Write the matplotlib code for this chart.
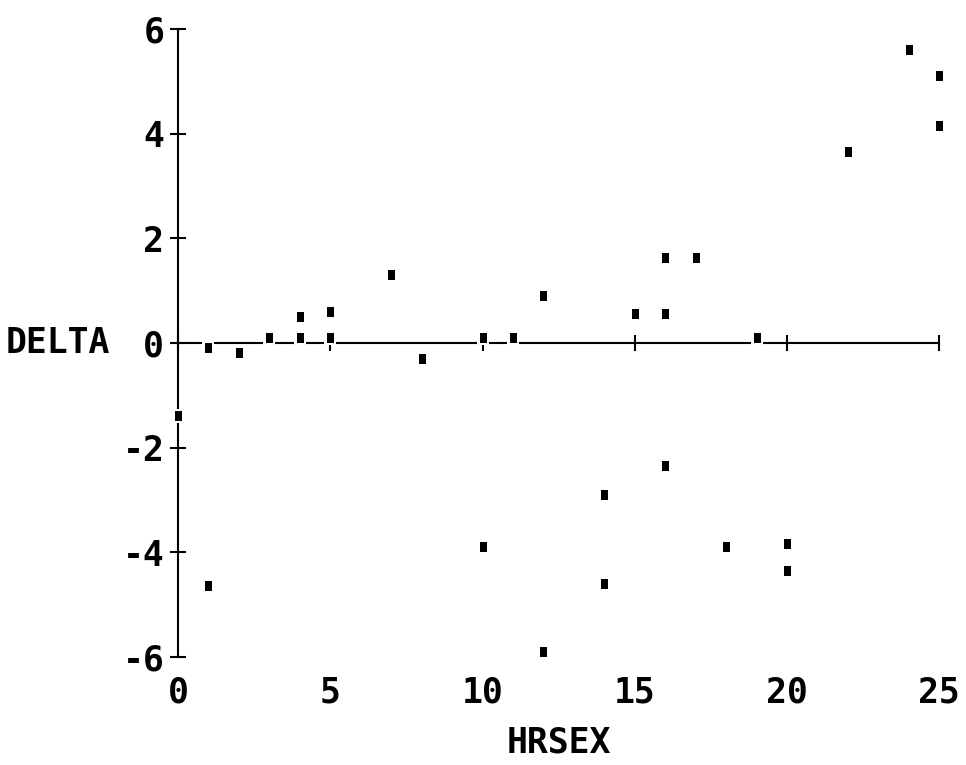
import matplotlib.pyplot as plt

# datos
hrsex = [0, 1, 1, 2, 3, 4, 4, 5, 5, 7, 8, 10, 10, 11, 12, 12, 14, 14, 15,
         16, 16, 16, 17, 18, 19, 20, 20, 22, 24, 25, 25]
delta = [-1.4, -0.1, -4.65, -0.2, 0.1, 0.5, 0.1, 0.6, 0.1, 1.3, -0.3, 0.1,
         -3.9, 0.1, 0.9, -5.9, -2.9, -4.6, 0.55, 0.55, 1.62, -2.35, 1.62,
         -3.9, 0.1, -3.85, -4.35, 3.65, 5.6, 5.1, 4.15]
xticks = [0, 5, 10, 15, 20, 25]
yticks = [-6, -4, -2, 0, 2, 4, 6]

plt.rcParams['font.family'] = ['DejaVu Sans Mono', 'DejaVu Sans']
plt.rcParams['font.weight'] = 'bold'
plt.rcParams['axes.labelweight'] = 'bold'

fig = plt.figure(figsize=(9.66, 7.65), dpi=100)
ax = fig.add_axes([0.1843, 0.1412, 0.788, 0.821])
ax.set_xlim(0, 25)
ax.set_ylim(-6, 6)

for s in ['top', 'right']:
    ax.spines[s].set_visible(False)
ax.spines['bottom'].set_position(('data', 0))
ax.spines['left'].set_linewidth(1.5)
ax.spines['bottom'].set_linewidth(1.5)

ax.set_xticks(xticks)
ax.set_yticks(yticks)
ax.set_yticklabels([str(v) for v in yticks])
ax.tick_params(axis='both', direction='inout', length=12, width=1.5,
               labelsize=25, pad=4)
ax.tick_params(axis='x', labelbottom=False)

# etiquetas del eje x abajo
sec = ax.secondary_xaxis('bottom')
sec.set_xticks(xticks)
sec.spines['bottom'].set_visible(False)
sec.tick_params(length=0, labelsize=25, pad=13)
sec.set_xlabel('HRSEX', fontsize=25, labelpad=12)

ax.text(-0.158, 0.5, 'DELTA', transform=ax.transAxes, fontsize=25,
        ha='center', va='center', fontweight='bold')

# marcadores rectangulares, con fondo blanco que borra la linea del eje
caja = [(-0.465, -0.5), (0.465, -0.5), (0.465, 0.5), (-0.465, 0.5), (-0.465, -0.5)]
punto = [(-0.35, -0.5), (0.35, -0.5), (0.35, 0.5), (-0.35, 0.5), (-0.35, -0.5)]
ax.plot(hrsex, delta, linestyle='none', marker=caja, markersize=10,
        color='white', markeredgewidth=0, zorder=5, clip_on=False)
ax.plot(hrsex, delta, linestyle='none', marker=punto, markersize=7.2,
        color='black', markeredgewidth=0, zorder=6, clip_on=False)

plt.savefig('out.png', dpi=100)
plt.close()
